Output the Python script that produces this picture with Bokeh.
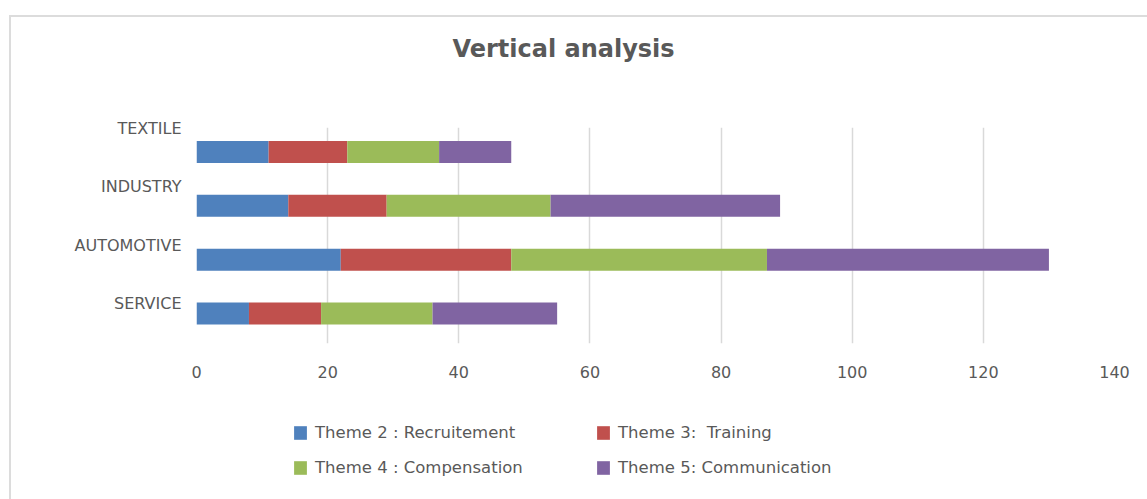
from bokeh.plotting import figure
from bokeh.layouts import column
from bokeh.models import (Range1d, LinearAxis, FixedTicker, Legend, LegendItem,
                          ColumnDataSource)
from bokeh.core.properties import value
from bokeh.embed import file_html
from bokeh.resources import INLINE

# ---- data ----
title_text = "Vertical analysis"
categories = ["SERVICE", "AUTOMOTIVE", "INDUSTRY", "TEXTILE"]
recruitement = [8, 22, 14, 11]
training = [11, 26, 15, 12]
compensation = [17, 39, 25, 14]
communication = [19, 43, 35, 11]
series_names = ["Theme 2 : Recruitement", "Theme 3:  Training",
                "Theme 4 : Compensation", "Theme 5: Communication"]
colors = ["#4F81BD", "#C0504D", "#9BBB59", "#8064A2"]
x_ticks = [0, 20, 40, 60, 80, 100, 120, 140]

FONT = "DejaVu Sans"
GRAY = "#595959"

W = 1136
BL, BR = 185, 33
FW = W - BL - BR
H0, H1, H2 = 93, 290, 99

# ---- title panel ----
tp = figure(width=W, height=H0, output_backend="svg", toolbar_location=None,
            x_range=Range1d(0, FW), y_range=Range1d(H0, 0),
            min_border_left=BL, min_border_right=BR, min_border_top=0, min_border_bottom=0,
            x_axis_location=None, y_axis_location=None, title_location=None)
tp.outline_line_color = None
tp.grid.visible = False
tp.text(x=[367], y=[31], text=[title_text], text_font=value(FONT),
        text_font_size="24px", text_font_style="bold", text_color=GRAY,
        text_align="center", text_baseline="middle")

# ---- main chart ----
p = figure(width=W, height=H1, output_backend="svg", toolbar_location=None,
           x_range=Range1d(0, 140), y_range=Range1d(-0.557, 3.455),
           min_border_left=BL, min_border_right=BR, min_border_top=17,
           min_border_bottom=57, x_axis_location=None, y_axis_location=None,
           title_location=None)
p.outline_line_color = None
p.background_fill_color = "white"
p.border_fill_color = "white"

ys = list(range(len(categories)))
series = [recruitement, training, compensation, communication]
lefts = [0] * len(categories)
for vals, c in zip(series, colors):
    rights = [l + v for l, v in zip(lefts, vals)]
    src = ColumnDataSource(dict(y=ys, left=lefts, right=rights))
    p.hbar(y="y", left="left", right="right", height=0.41, source=src,
           fill_color=c, line_color=None)
    lefts = rights

xaxis = LinearAxis(ticker=FixedTicker(ticks=x_ticks))
xaxis.axis_line_color = None
xaxis.major_tick_line_color = None
xaxis.minor_tick_line_color = None
xaxis.major_label_text_font = FONT
xaxis.major_label_text_font_size = "16px"
xaxis.major_label_text_color = GRAY
xaxis.major_label_standoff = 16
p.add_layout(xaxis, "below")

p.xgrid.ticker = FixedTicker(ticks=x_ticks[1:])
p.xgrid.grid_line_color = "#d9d9d9"
p.xgrid.grid_line_width = 1.5
p.ygrid.grid_line_color = None

# category labels (offset scale, as in the original)
p.extra_y_ranges = {"lab": Range1d(-0.678, 3.01)}
yaxis = LinearAxis(y_range_name="lab", ticker=FixedTicker(ticks=ys),
                   major_label_overrides={i: c for i, c in enumerate(categories)})
yaxis.axis_line_color = None
yaxis.major_tick_line_color = None
yaxis.minor_tick_line_color = None
yaxis.major_tick_out = 0
yaxis.major_label_standoff = 15
yaxis.major_label_text_font = FONT
yaxis.major_label_text_font_size = "16px"
yaxis.major_label_text_color = GRAY
p.add_layout(yaxis, "left")

# ---- legend panel ----
lp = figure(width=W, height=H2, output_backend="svg", toolbar_location=None,
            x_range=Range1d(0, 1), y_range=Range1d(0, 1),
            min_border_left=BL, min_border_right=BR, min_border_top=0, min_border_bottom=0,
            x_axis_location=None, y_axis_location=None, title_location=None)
lp.outline_line_color = None
lp.grid.visible = False
items = []
for name, c in zip(series_names, colors):
    # zero-size proxy glyph, only used for the legend swatch
    r = lp.hbar(y=[0], left=[0], right=[0], height=0, fill_color=c, line_color=None)
    items.append(LegendItem(label=name, renderers=[r]))

legend = Legend(items=items, orientation="horizontal", ncols=2, location=(96, 14))
legend.padding = 0
legend.margin = 0
legend.spacing = 0
legend.border_line_color = None
legend.background_fill_alpha = 0
legend.glyph_width = 16
legend.glyph_height = 17
legend.label_standoff = 7
legend.label_width = 280
legend.label_height = 35
legend.label_text_font = FONT
legend.label_text_font_size = "16.5px"
legend.label_text_color = GRAY
lp.add_layout(legend, "center")

layout = column(tp, p, lp, spacing=0, margin=(15, 0, 0, 9),
                styles={"border-top": "2px solid #dcdcdc", "border-left": "2px solid #dcdcdc"})

open("out.html", "w").write(file_html(layout, INLINE))
